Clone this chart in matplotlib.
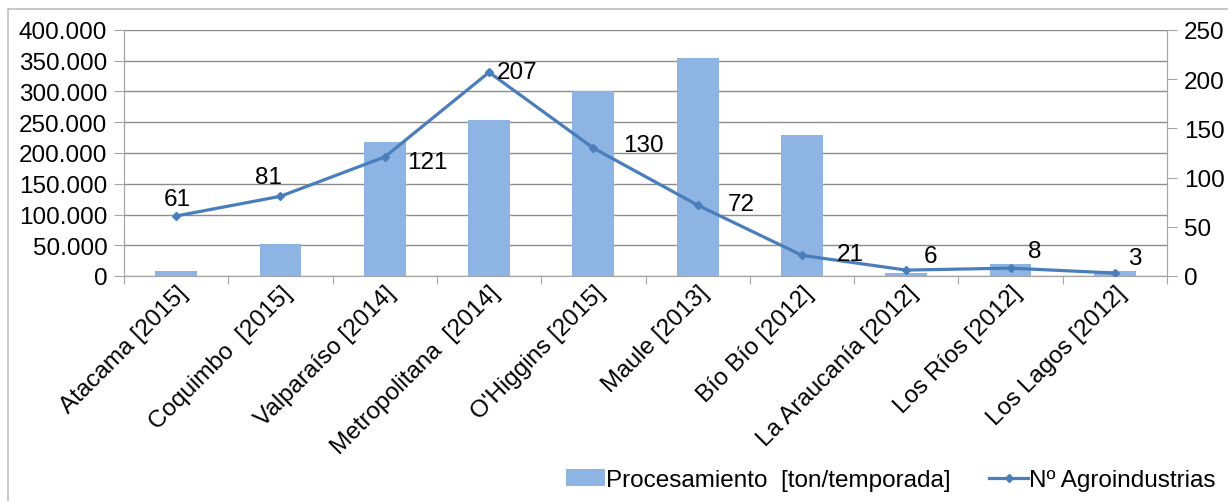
import matplotlib
matplotlib.use("Agg")
import matplotlib.pyplot as plt
from matplotlib.ticker import FuncFormatter, MultipleLocator
from matplotlib.patches import Rectangle

plt.rcParams['font.family'] = ['Liberation Sans', 'DejaVu Sans']

categories = ["Atacama [2015]", "Coquimbo  [2015]", "Valparaíso [2014]", "Metropolitana  [2014]",
              "O'Higgins [2015]", "Maule [2013]", "Bío Bío [2012]", "La Araucanía [2012]",
              "Los Ríos [2012]", "Los Lagos [2012]"]
procesamiento = [8000, 52000, 218000, 253000, 300000, 355000, 230000, 5000, 20000, 8000]
agroindustrias = [61, 81, 121, 207, 130, 72, 21, 6, 8, 3]

bar_color = '#8EB4E3'
line_color = '#4A7EBB'
grid_color = '#8C8C8C'
axis_color = '#A6A6A6'
FS = 17.5

W, H = 1228, 502
fig = plt.figure(figsize=(W / 100, H / 100), dpi=100)
ax = fig.add_axes([124 / W, 1 - 277 / H, (1167 - 124) / W, (277 - 31) / H])
ax2 = ax.twinx()

x = list(range(len(categories)))
ax.bar(x, procesamiento, width=0.4, color=bar_color, zorder=2,
       label='Procesamiento  [ton/temporada]')
ax.set_ylim(0, 400000)
ax.set_xlim(-0.5, len(categories) - 0.5)
ax.yaxis.set_major_locator(MultipleLocator(50000))
ax.yaxis.set_major_formatter(FuncFormatter(lambda v, p: '0' if v == 0 else f"{int(v):,}".replace(',', '.')))
ax.grid(axis='y', color=grid_color, linewidth=1, zorder=0)
ax.set_axisbelow(True)

ax2.plot(x, agroindustrias, color=line_color, linewidth=2.3, marker='D', markersize=4.5,
         zorder=3, label='Nº Agroindustrias')
ax2.set_ylim(0, 250)
ax2.yaxis.set_major_locator(MultipleLocator(50))

# label offsets in pixels (dx, dy) relative to the point; text centred there
offsets = [(1, 17), (-12, 19), (43, -5), (28, 0), (50, 3), (44, 1), (48, 1), (24, 14), (24, 17), (20, 15)]
for xi, v, (dx, dy) in zip(x, agroindustrias, offsets):
    ax2.annotate(str(v), (xi, v), xytext=(dx, dy), textcoords='offset pixels',
                 ha='center', va='center', fontsize=FS, color='black')

ax.set_xticks([i + 0.5 for i in range(-1, len(categories))], minor=False)
ax.set_xticklabels([])
ax.tick_params(axis='x', which='major', length=6, color=axis_color)
ax.set_xticks(x, minor=True)
ax.set_xticklabels(categories, minor=True, rotation=45, ha='right', rotation_mode='anchor', fontsize=FS)
ax.tick_params(axis='x', which='minor', length=0, pad=4)

ax.tick_params(axis='y', labelsize=FS, length=7, color=axis_color, pad=5)
ax2.tick_params(axis='y', labelsize=FS, length=7, color=axis_color, pad=5)

for a in (ax, ax2):
    a.spines['top'].set_visible(False)
    for s in ('left', 'right', 'bottom'):
        a.spines[s].set_color(axis_color)

h1, l1 = ax.get_legend_handles_labels()
h2, l2 = ax2.get_legend_handles_labels()
fig.legend(h1 + h2, l1 + l2, loc='lower right', bbox_to_anchor=(1.0, -0.005), ncol=2,
           frameon=False, fontsize=FS, handlelength=1.6, handletextpad=0.05, columnspacing=1.6,
           borderaxespad=0.1)

fig.patches.append(Rectangle((8 / W, -0.01), 1.0, 1 - 10 / H + 0.01,
                             transform=fig.transFigure, fill=False, edgecolor='#BFBFBF', linewidth=1.2))

fig.savefig('out.png', dpi=100)
